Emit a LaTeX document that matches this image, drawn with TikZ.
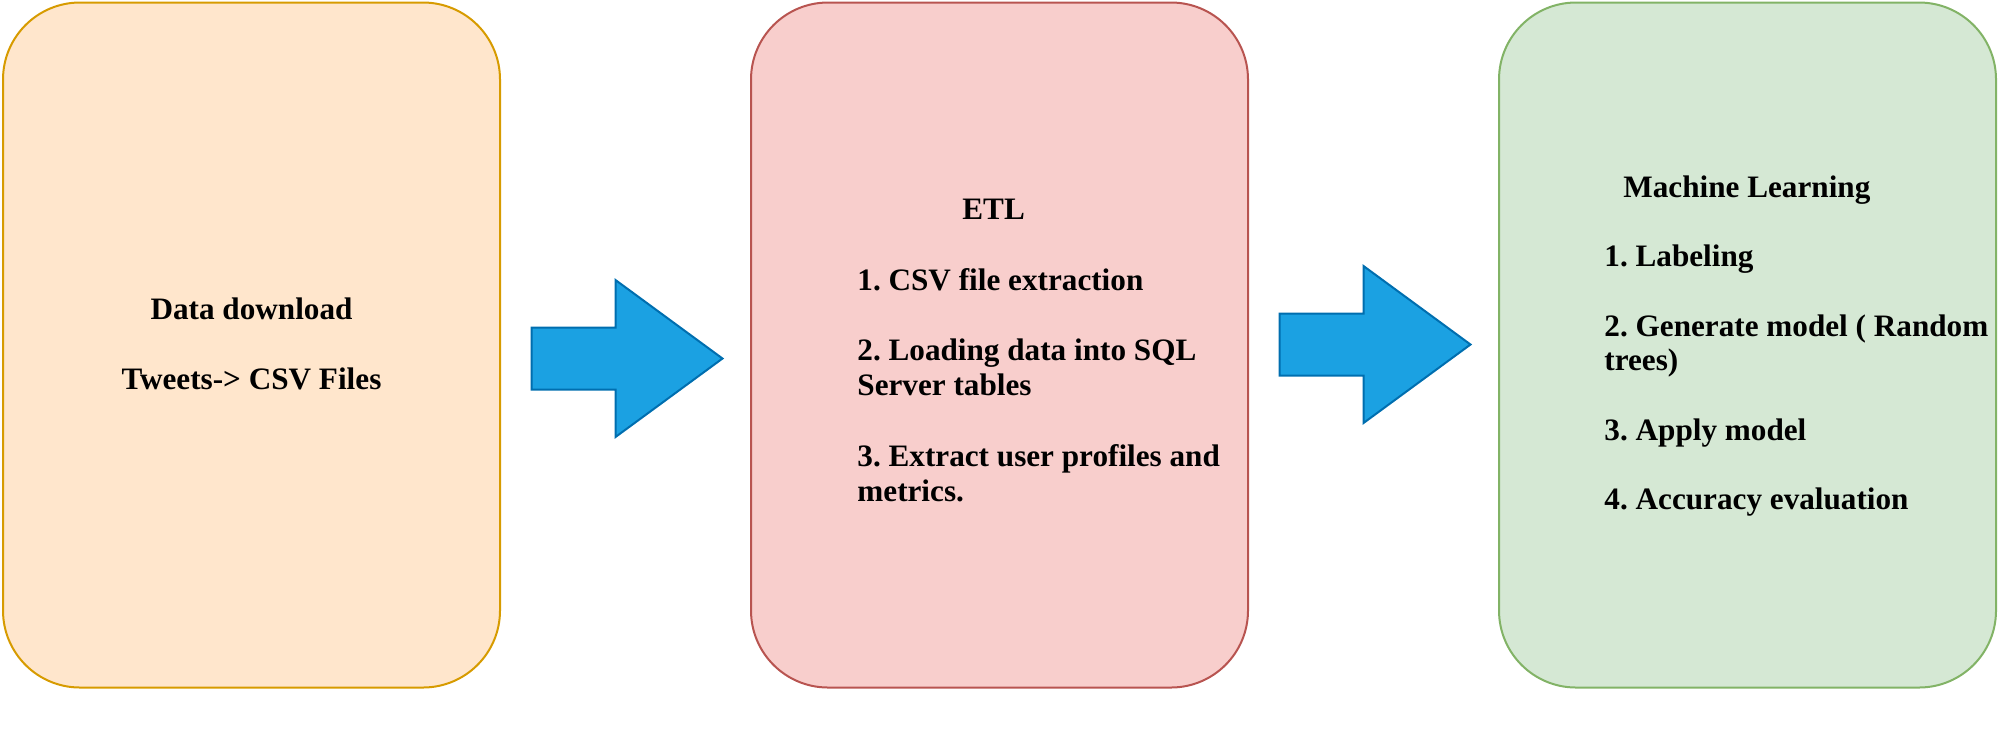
\documentclass[tikz,border=0pt]{standalone}
\usepackage{fontspec}
\setmainfont{Liberation Serif}
\usetikzlibrary{positioning,calc}
\definecolor{dlfill}{HTML}{FFE6CC}\definecolor{dldraw}{HTML}{D79B00}
\definecolor{etlfill}{HTML}{F8CECC}\definecolor{etldraw}{HTML}{B85450}
\definecolor{mlfill}{HTML}{D5E8D4}\definecolor{mldraw}{HTML}{82B366}
\definecolor{arrfill}{HTML}{1BA1E2}\definecolor{arrdraw}{HTML}{006EAF}
\tikzset{stage/.style={draw,rounded corners=38.5pt,line width=1pt,minimum width=248.5pt,minimum height=342.5pt,inner sep=0pt},
  steps/.style={align=left,inner sep=0pt,font=\frenchspacing\bfseries\fontsize{15.6}{17.6}\selectfont},
  bigarrow/.style={fill=arrfill,draw=arrdraw,line width=1pt,line join=miter}}

\begin{document}
\begin{tikzpicture}[x=0.5pt,y=-0.5pt]
          \useasboundingbox (0,0) rectangle (2000,752);

          % the three stages
          \node (dl) [stage,fill=dlfill,draw=dldraw] at (251.5,345) {};
          \node (etl) [stage,fill=etlfill,draw=etldraw,right=124.5pt of dl] {};
          \node (ml) [stage,fill=mlfill,draw=mldraw,right=124.5pt of etl] {};

          % texts (base = last line)
          \node (dltext) [steps,align=center,anchor=base] at ($(dl.north)+(0,388)$)
            {Data download\\[17.6pt]Tweets-> CSV Files};
          \node (etltext) [steps,anchor=base west] at ($(etl.north west)+(107,500)$)
            {\hspace*{52.5pt}ETL\\[17.6pt]1. CSV file extraction\\[17.6pt]2. Loading data into SQL\\Server tables\\[17.6pt]3. Extract user profiles and\\metrics.};
          \node (mltext) [steps,font=\frenchspacing\bfseries\fontsize{15.6}{17.35}\selectfont,anchor=base west] at ($(ml.north west)+(106,508)$)
            {\hspace*{9.5pt}Machine Learning\\[17.35pt]1. Labeling\\[17.35pt]2. Generate model ( Random\\trees)\\[17.35pt]3. Apply model\\[17.35pt]4. Accuracy evaluation};

          % arrows
          \foreach \b/\dy in {dl/13.5, etl/-0.5}
          {\draw[bigarrow] ($(\b.east)+(30.5,\dy-31)$) -- ++(84,0) -- ++(0,-47.5) -- ++(107,78.5)
            -- ++(-107,78.5) -- ++(0,-47.5) -- ++(-84,0) -- cycle;}

        \end{tikzpicture}
\end{document}
